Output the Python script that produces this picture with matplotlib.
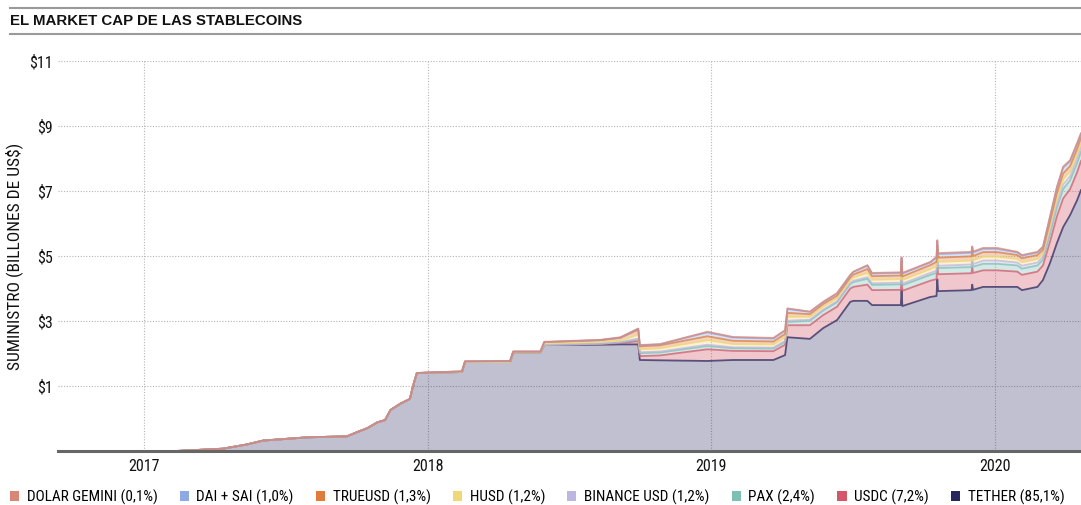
import matplotlib
matplotlib.use("Agg")
import matplotlib.pyplot as plt
import matplotlib.dates as mdates
from matplotlib.patches import Patch
import pandas as pd

plt.rcParams['font.family'] = ['Roboto Condensed', 'Liberation Sans Narrow', 'DejaVu Sans']

# valores (escala impresa, el piso del eje esta en -1)
fechas = [
    "2016-09-12", "2017-02-12", "2017-04-12", "2017-05-13", "2017-06-03", "2017-07-30",
    "2017-09-19", "2017-10-02", "2017-10-15", "2017-10-28", "2017-11-07", "2017-11-14",
    "2017-11-27", "2017-12-09", "2017-12-13", "2017-12-18", "2018-02-14", "2018-02-18",
    "2018-04-17", "2018-04-21", "2018-05-26", "2018-05-31", "2018-08-11", "2018-09-06",
    "2018-09-29", "2018-10-01", "2018-10-27", "2018-12-27", "2019-01-29", "2019-03-22",
    "2019-04-06", "2019-04-09", "2019-05-08", "2019-05-25", "2019-06-12", "2019-06-29",
    "2019-07-03", "2019-07-21", "2019-07-27", "2019-09-02", "2019-09-03", "2019-09-04",
    "2019-10-10", "2019-10-18", "2019-10-19", "2019-10-20", "2019-12-02", "2019-12-03",
    "2019-12-04", "2019-12-17", "2020-01-04", "2020-01-30", "2020-02-05", "2020-02-25",
    "2020-03-03", "2020-03-12", "2020-03-21", "2020-03-29", "2020-04-07", "2020-04-16",
    "2020-04-21",
]

tether = [
    -1.00, -1.00, -0.93, -0.80, -0.68, -0.58,
    -0.55, -0.42, -0.30, -0.12, -0.05, 0.26,
    0.46, 0.60, 1.00, 1.40, 1.43, 1.74,
    1.74, 2.03, 2.03, 2.26, 2.27, 2.28,
    2.28, 1.80, 1.79, 1.77, 1.80, 1.80,
    1.95, 2.50, 2.45, 2.78, 3.03, 3.59,
    3.62, 3.62, 3.49, 3.49, 3.95, 3.46,
    3.74, 3.77, 4.28, 3.92, 3.95, 4.12,
    3.96, 4.05, 4.05, 4.05, 3.95, 4.05,
    4.26, 4.78, 5.40, 5.89, 6.26, 6.72,
    7.03,
]

usdc = [
    0, 0, 0, 0, 0, 0, 0, 0, 0, 0, 0, 0, 0, 0, 0, 0, 0, 0, 0, 0, 0, 0,
    .02, .04, .10, .12, .15, .36, .28, .27, .32, .37, .42, .40, .41, .41,
    .43, .50, .46, .47, .47, .47, .50, .52, .52, .52, .52, .52, .52, .51,
    .51, .47, .47, .47, .45, .65, .82, .88, .80, .86, .90,
]
pax = [
    0, 0, 0, 0, 0, 0, 0, 0, 0, 0, 0, 0, 0, 0, 0, 0, 0, 0, 0, 0, 0, 0,
    .01, .02, .05, .09, .09, .10, .08, .08, .09, .10, .14, .14, .14, .14,
    .15, .18, .16, .17, .17, .17, .18, .19, .19, .19, .19, .19, .19, .20,
    .20, .19, .19, .19, .18, .23, .27, .29, .27, .28, .28,
]
busd = [
    0, 0, 0, 0, 0, 0, 0, 0, 0, 0, 0, 0, 0, 0, 0, 0, 0, 0, 0, 0, 0, 0,
    0, .01, .03, .03, .03, .04, .03, .03, .03, .04, .03, .03, .03, .03,
    .04, .05, .05, .05, .05, .05, .06, .07, .07, .07, .08, .08, .08, .10,
    .10, .09, .09, .09, .09, .11, .13, .14, .13, .14, .14,
]
husd = [
    0, 0, 0, 0, 0, 0, 0, 0, 0, 0, 0, 0, 0, 0, 0, 0, 0, 0, 0, 0, 0, .04,
    .05, .05, .12, .09, .10, .14, .10, .10, .11, .12, .09, .09, .09, .09,
    .10, .13, .11, .11, .11, .11, .12, .13, .13, .12, .12, .12, .12, .12,
    .12, .11, .11, .11, .10, .13, .15, .16, .15, .14, .14,
]
trueusd = [
    0, 0, 0, 0, 0, 0, 0, 0, 0, 0, 0, 0, 0, 0, 0, 0, .02, .02, .03, .03, .03, .05,
    .06, .08, .15, .09, .09, .12, .10, .09, .10, .12, .08, .08, .08, .08,
    .09, .12, .11, .11, .11, .11, .12, .14, .14, .13, .13, .13, .13, .14,
    .14, .12, .12, .12, .11, .15, .17, .18, .16, .16, .15,
]
dai = [
    0, 0, 0, 0, 0, 0, 0, 0, 0, 0, 0, 0, 0, 0, 0, 0, 0, 0, 0, 0, 0, 0,
    0, .01, .03, .03, .03, .12, .10, .09, .10, .12, .07, .06, .07, .07,
    .08, .10, .08, .08, .08, .09, .08, .13, .13, .11, .11, .11, .11, .10,
    .10, .08, .08, .08, .08, .13, .16, .18, .15, .15, .12,
]
gemini = [
    0, 0, 0, 0, 0, 0, 0, 0, 0, 0, 0, 0, 0, 0, 0, 0, 0, 0, 0, 0, 0, .01,
    .01, .01, .01, .01, .01, .02, .02, .02, .02, .02, .01, .01, .01, .01,
    .01, .02, .02, .02, .02, .02, .02, .03, .03, .03, .03, .03, .03, .03,
    .03, .02, .02, .02, .02, .03, .03, .03, .03, .03, .02,
]

etiquetas = ["DOLAR GEMINI (0,1%)", "DAI + SAI (1,0%)", "TRUEUSD (1,3%)", "HUSD (1,2%)",
             "BINANCE USD (1,2%)", "PAX (2,4%)", "USDC (7,2%)", "TETHER (85,1%)"]
colores = ["#d98578", "#8ea9e6", "#e07b39", "#f0d878", "#bdb6e0", "#7cbfb3", "#d4566a", "#27275e"]

x = pd.to_datetime(fechas)
piso = -1.0

fig = plt.figure(figsize=(10.81, 5.05), dpi=100)
ax = fig.add_axes([0.0537, 0.107, 0.9463, 0.772])

# tether desde el piso del eje
ax.fill_between(x, piso, tether, color=colores[7], alpha=0.29, lw=0, zorder=2)
acum = list(tether)
capas = [(usdc, colores[6]), (pax, colores[5]), (busd, colores[4]), (husd, colores[3]),
         (trueusd, colores[2]), (dai, colores[1]), (gemini, colores[0])]
bordes = [(list(tether), colores[7])]
for vals, c in capas:
    arriba = [a + v for a, v in zip(acum, vals)]
    ax.fill_between(x, acum, arriba, color=c, alpha=0.33, lw=0, zorder=2)
    bordes.append((arriba, c))
    acum = arriba
for linea, c in bordes:
    ax.plot(x, linea, color=c, lw=1.3, alpha=0.75, zorder=3)

ax.set_xlim(pd.Timestamp("2016-09-12"), pd.Timestamp("2020-04-21"))
ax.set_ylim(-1, 11)
ax.set_yticks([1, 3, 5, 7, 9, 11])
ax.set_yticklabels(["$1", "$3", "$5", "$7", "$9", "$11"])
anios = [pd.Timestamp(f"{a}-01-01") for a in (2017, 2018, 2019, 2020)]
ax.set_xticks(anios)
ax.xaxis.set_major_formatter(mdates.DateFormatter("%Y"))
ax.tick_params(length=0, labelsize=11.5, colors="#111111")
ax.tick_params(axis="x", pad=6)
ax.tick_params(axis="y", pad=4)
ax.grid(True, color="#b5b5b5", ls=(0, (1, 1.5)), lw=0.8, zorder=1)
for s in ("top", "right", "left"):
    ax.spines[s].set_visible(False)
ax.spines["bottom"].set_color("#666666")
ax.spines["bottom"].set_linewidth(2.2)
ax.spines["bottom"].set_zorder(4)
ax.set_ylabel("SUMINISTRO (BILLONES DE US$)", fontsize=12.5, color="#111111", labelpad=4)

# cabecera
fig.add_artist(plt.Line2D([0.009, 1], [0.984, 0.984], color="#9a9a9a", lw=1.5))
fig.add_artist(plt.Line2D([0.009, 1], [0.932, 0.932], color="#9a9a9a", lw=1.5))
fig.text(0.009, 0.958, "EL MARKET CAP DE LAS STABLECOINS", fontsize=10.8, fontweight="bold",
         va="center", ha="left", family=["Liberation Sans", "DejaVu Sans"], color="#111111")

handles = [Patch(facecolor=c, edgecolor="none") for c in colores]
fig.legend(handles, etiquetas, loc="center left", bbox_to_anchor=(0.009, 0.016), ncol=8,
           frameon=False, fontsize=11, handlelength=0.6, handleheight=0.6,
           handletextpad=0.5, columnspacing=1.45, borderaxespad=0, borderpad=0)

fig.savefig("out.png", dpi=100)
